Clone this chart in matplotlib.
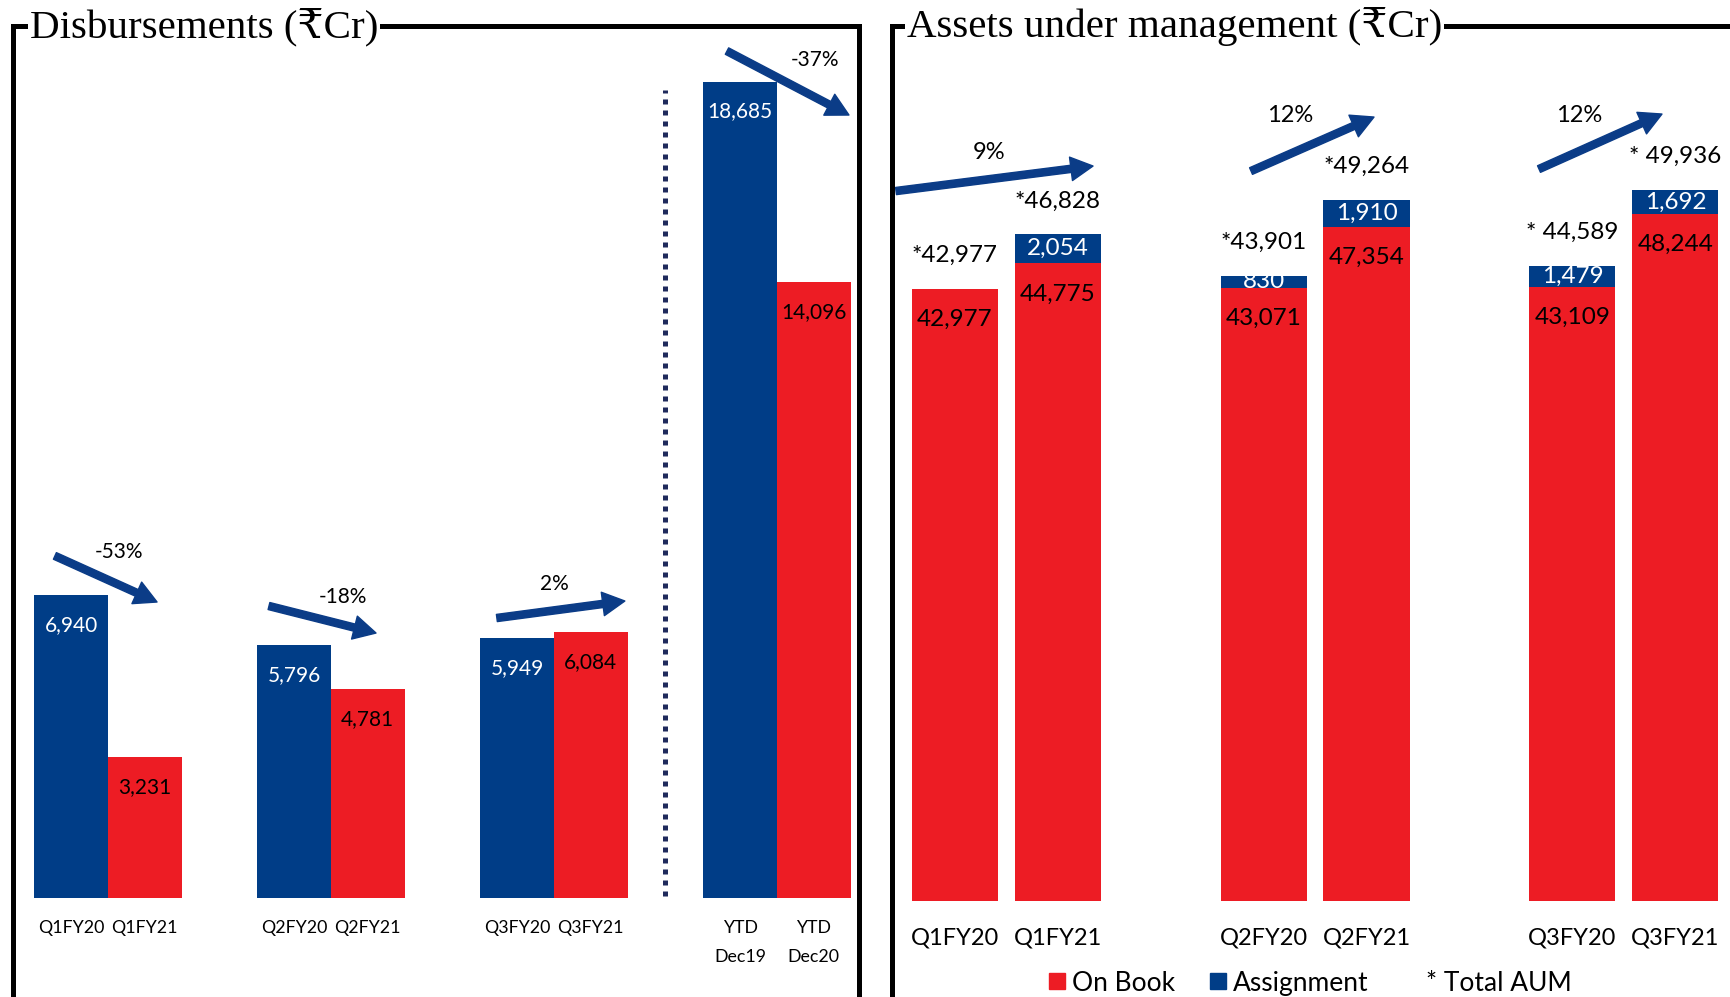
import numpy as np
import matplotlib
matplotlib.use('Agg')
import matplotlib.pyplot as plt
from matplotlib import font_manager
from matplotlib.lines import Line2D

# ---- data ----
disb_labels = ['Q1FY20', 'Q1FY21', 'Q2FY20', 'Q2FY21', 'Q3FY20', 'Q3FY21', 'YTD\nDec19', 'YTD\nDec20']
disb_prev = [6940, 5796, 5949, 18685]
disb_curr = [3231, 4781, 6084, 14096]
disb_change = ['-53%', '-18%', '2%', '-37%']

aum_labels = ['Q1FY20', 'Q1FY21', 'Q2FY20', 'Q2FY21', 'Q3FY20', 'Q3FY21']
aum_onbook = [42977, 44775, 43071, 47354, 43109, 48244]
aum_assign = [0, 2054, 830, 1910, 1479, 1692]
aum_total = ['*42,977', '*46,828', '*43,901', '*49,264', '* 44,589', '* 49,936']
aum_change = ['9%', '12%', '12%']

BLUE = '#003D87'
RED = '#ED1C24'
ARROW = '#0B3C87'

# pick a narrow sans if available (looks closer to the original)
names = {f.name for f in font_manager.fontManager.ttflist}
if 'Liberation Sans Narrow' in names:
    sans, k = 'Liberation Sans Narrow', 1.12
else:
    sans, k = 'Lato', 1.0
plt.rcParams['font.family'] = [sans, 'DejaVu Sans']
serif = ['Liberation Serif', 'DejaVu Serif', 'DejaVu Sans']

W, H = 1731, 997
fig = plt.figure(figsize=(W / 100, H / 100), dpi=100)


def box(x0, x1, y0, y1):
    # pixel box -> figure fraction
    return [x0 / W, 1 - y1 / H, (x1 - x0) / W, (y1 - y0) / H]


def clean(ax):
    for s in ax.spines.values():
        s.set_visible(False)
    ax.set_yticks([])
    ax.tick_params(axis='x', length=0)


def arrow(ax, p0, p1):
    ax.annotate('', xy=p1, xytext=p0,
                arrowprops=dict(arrowstyle='simple,head_length=0.8,head_width=0.85,tail_width=0.26',
                                color=ARROW, shrinkA=0, shrinkB=0, mutation_scale=20))


# ---- left: disbursements ----
ax1 = fig.add_axes(box(13, 859, 26, 898))
clean(ax1)
x = np.arange(len(disb_prev))
bw = 0.33
ax1.bar(x - bw / 2, disb_prev, bw, color=BLUE)
ax1.bar(x + bw / 2, disb_curr, bw, color=RED)
# thin light edge under the bars
ax1.bar(x - bw / 2, -60, bw, color='#8FB2E0')
ax1.bar(x + bw / 2, -60, bw, color='#F7A8AC')
ax1.set_xlim(-0.426, 3.368)
ax1.set_ylim(0, 19960)

for i in range(len(x)):
    ax1.annotate(f'{disb_prev[i]:,}', (x[i] - bw / 2, disb_prev[i]), xytext=(0, -21.5),
                 textcoords='offset points', ha='center', va='center', color='white', fontsize=15 * k)
    ax1.annotate(f'{disb_curr[i]:,}', (x[i] + bw / 2, disb_curr[i]), xytext=(0, -21.5),
                 textcoords='offset points', ha='center', va='center', color='black', fontsize=15 * k)

ax1.set_xticks(np.column_stack([x - bw / 2, x + bw / 2]).ravel(), disb_labels, fontsize=12.8 * k)
ax1.tick_params(axis='x', pad=16)
for t in ax1.get_xticklabels():
    t.set_linespacing(2.0)

# separator between quarters and YTD
sep = (x[2] + x[3]) / 2
ax1.plot([sep, sep], [50, 18490], ls=(0, (1, 1.2)), lw=3.6, color='#1F2A5C')

# growth arrows (start, end) and label spots
disb_arrows = [((-0.238, 7830), (0.22, 6775)), ((0.722, 6683), (1.202, 6065)),
               ((1.744, 6409), (2.318, 6798)), ((2.776, 19386), (3.323, 17922))]
disb_pct_xy = [(0.049, 7919), (1.054, 6889), (2.0, 7187), (3.17, 19180)]
for (p0, p1), pos, txt in zip(disb_arrows, disb_pct_xy, disb_change):
    arrow(ax1, p0, p1)
    ax1.text(pos[0], pos[1], txt, ha='center', va='center', fontsize=15 * k)

# ---- right: AUM ----
ax2 = fig.add_axes(box(892, 1731, 26, 901))
clean(ax2)
xr = np.array([0, 1, 3, 4, 6, 7])
bw2 = 0.835
ax2.bar(xr, aum_onbook, bw2, color=RED)
ax2.bar(xr, aum_assign, bw2, bottom=aum_onbook, color=BLUE)
ax2.set_xlim(-0.607, 7.539)
ax2.set_ylim(0, 61450)

for i in range(len(xr)):
    ax2.annotate(f'{aum_onbook[i]:,}', (xr[i], aum_onbook[i]), xytext=(0, -22),
                 textcoords='offset points', ha='center', va='center', fontsize=17.5 * k)
    top = aum_onbook[i] + aum_assign[i]
    if aum_assign[i]:
        ax2.text(xr[i], aum_onbook[i] + aum_assign[i] / 2, f'{aum_assign[i]:,}', ha='center',
                 va='center', color='white', fontsize=17.5 * k)
    ax2.annotate(aum_total[i], (xr[i], top), xytext=(0, 24), textcoords='offset points',
                 ha='center', va='center', fontsize=17.5 * k)

ax2.set_xticks(xr, aum_labels, fontsize=17 * k)
ax2.tick_params(axis='x', pad=19)

aum_arrows = [((-0.568, 49860), (1.345, 51615)), ((2.879, 51264), (4.073, 55056)),
              ((5.675, 51404), (6.869, 55267))]
aum_pct_xy = [(0.335, 52570), (3.257, 55197), (6.063, 55197)]
for (p0, p1), pos, txt in zip(aum_arrows, aum_pct_xy, aum_change):
    arrow(ax2, p0, p1)
    ax2.text(pos[0], pos[1], txt, ha='center', va='center', fontsize=17 * k)

handles = [Line2D([], [], marker='s', ls='none', color=RED, ms=12),
           Line2D([], [], marker='s', ls='none', color=BLUE, ms=12),
           Line2D([], [], ls='none')]
fig.legend(handles, ['On Book', 'Assignment', '* Total AUM'], ncol=3, loc='center',
           bbox_to_anchor=(1310 / W, 1 - 983 / H), frameon=False, fontsize=19 * k,
           handlelength=0.7, handletextpad=0.2, columnspacing=1.3, borderpad=0)

# ---- frames and titles ----
lw = 3.6
fig.add_artist(Line2D([13 / W, 13 / W, 859 / W, 859 / W], [-0.02, 1 - 26 / H, 1 - 26 / H, -0.02],
                      transform=fig.transFigure, lw=lw, color='black',
                      solid_joinstyle='miter', zorder=1))
fig.add_artist(Line2D([892 / W, 892 / W, 1.02], [-0.02, 1 - 26 / H, 1 - 26 / H],
                      transform=fig.transFigure, lw=lw, color='black',
                      solid_joinstyle='miter', zorder=1))
fig.text(30 / W, 1 - 37 / H, 'Disbursements (₹Cr)', family=serif, fontsize=29.5, va='baseline',
         bbox=dict(facecolor='white', edgecolor='none', pad=1.5), zorder=5)
fig.text(907 / W, 1 - 37 / H, 'Assets under management (₹Cr)', family=serif, fontsize=29.5,
         va='baseline', bbox=dict(facecolor='white', edgecolor='none', pad=1.5), zorder=5)

fig.savefig('out.png', dpi=100)
